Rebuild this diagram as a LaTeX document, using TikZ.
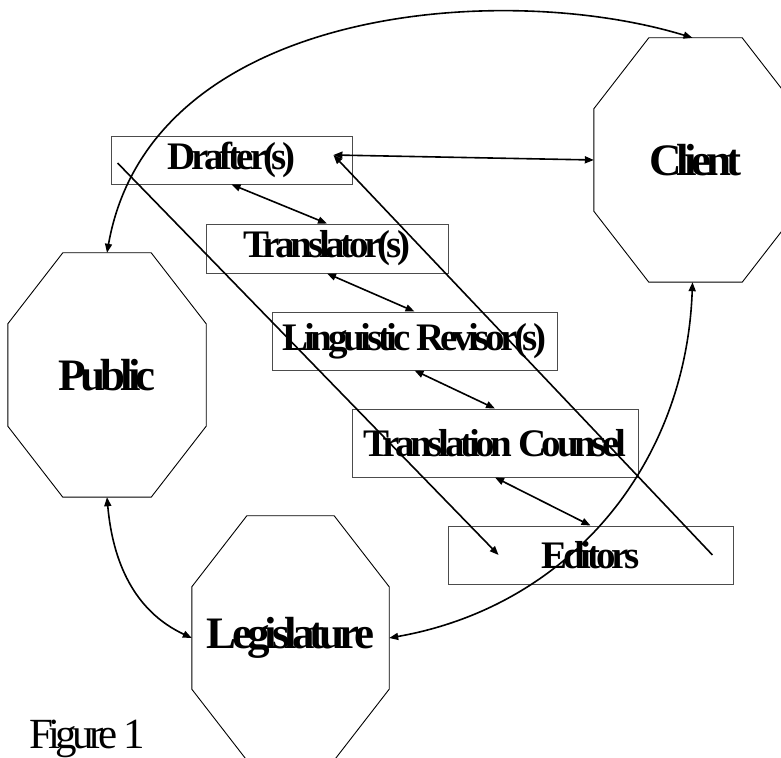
\documentclass[tikz,border=0pt]{standalone}
\usepackage{fontspec}
\setmainfont{Liberation Serif}[LetterSpace=-11]
\usetikzlibrary{arrows.meta}

\begin{document}
\begin{tikzpicture}[x=1pt,y=1pt,
    >={Triangle[length=9pt,width=7pt]},
    role/.style={rectangle,draw=black!70,line width=0.9pt,inner sep=0pt,
        font=\fontsize{39}{40}\selectfont\bfseries},
    party/.style={rectangle,inner sep=0pt,minimum width=198pt,minimum height=244pt,
        font=\fontsize{45}{46}\selectfont\bfseries},
    link/.style={line width=1.6pt}]
    \useasboundingbox (0,0) rectangle (781,757);

    \node[party] (public) at (107,382) {Public};
    \node[party,minimum width=203pt] (client) at (695.5,597) {Client};
    \node[party,minimum width=197pt] (legis) at (290.5,119) {Legislature};
    % octagon outlines round the three parties
    \foreach \p in {public,client,legis}
        \draw[line width=0.9pt] ([xshift=55]\p.north west) -- ([xshift=-55]\p.north east)
            -- ([yshift=-71]\p.north east) -- ([yshift=71]\p.south east)
            -- ([xshift=-55]\p.south east) -- ([xshift=55]\p.south west)
            -- ([yshift=71]\p.south west) -- ([yshift=-71]\p.north west) -- cycle;

    \node[role,minimum width=241pt,minimum height=48pt] (drafter) at (231.5,597) {Drafter(s)};
    \node[role,minimum width=242pt,minimum height=49pt] (translator) at (327,508.5) {Translator(s)};
    \node[role,minimum width=285pt,minimum height=58pt] (revisor) at (414.5,416) {Linguistic Revisor(s)};
    \node[role,minimum width=286pt,minimum height=68pt] (counsel) at (495,314) {Translation Counsel};
    \node[role,minimum width=285pt,minimum height=58pt] (editors) at (590.5,202) {Editors};

    \node[anchor=base west,inner sep=0pt,font=\fontsize{43}{44}\selectfont] (caption) at (29,8.5) {Figure 1};

    \coordinate (dTip) at ([shift={(-19,5)}]drafter.east);
    \coordinate (dTail) at ([shift={(7,-3)}]drafter.west);
    \coordinate (eTip) at ([xshift=51]editors.west);
    \coordinate (eTail) at ([xshift=-21]editors.east);

    \draw[link,<->] (public.north) .. controls +(80:250) and +(163:200) .. ([xshift=-3]client.north);
    \draw[link,<->] (public.south) to[out=-85,in=155] (legis.west);
    \draw[link,<->] ([xshift=-3]client.south) to[out=-92,in=10] (legis.east);
    \draw[link,<->] (dTip) -- (client.west);
    \draw[link,->] (dTail) -- (eTip);
    \draw[link,->] (eTail) -- (dTip);

    \draw[link,<->] (drafter.south) -- (translator.north);
    \draw[link,<->] (translator.south) -- (revisor.north);
    \draw[link,<->] (revisor.south) -- (counsel.north);
    \draw[link,<->] (counsel.south) -- (editors.north);
\end{tikzpicture}
\end{document}
